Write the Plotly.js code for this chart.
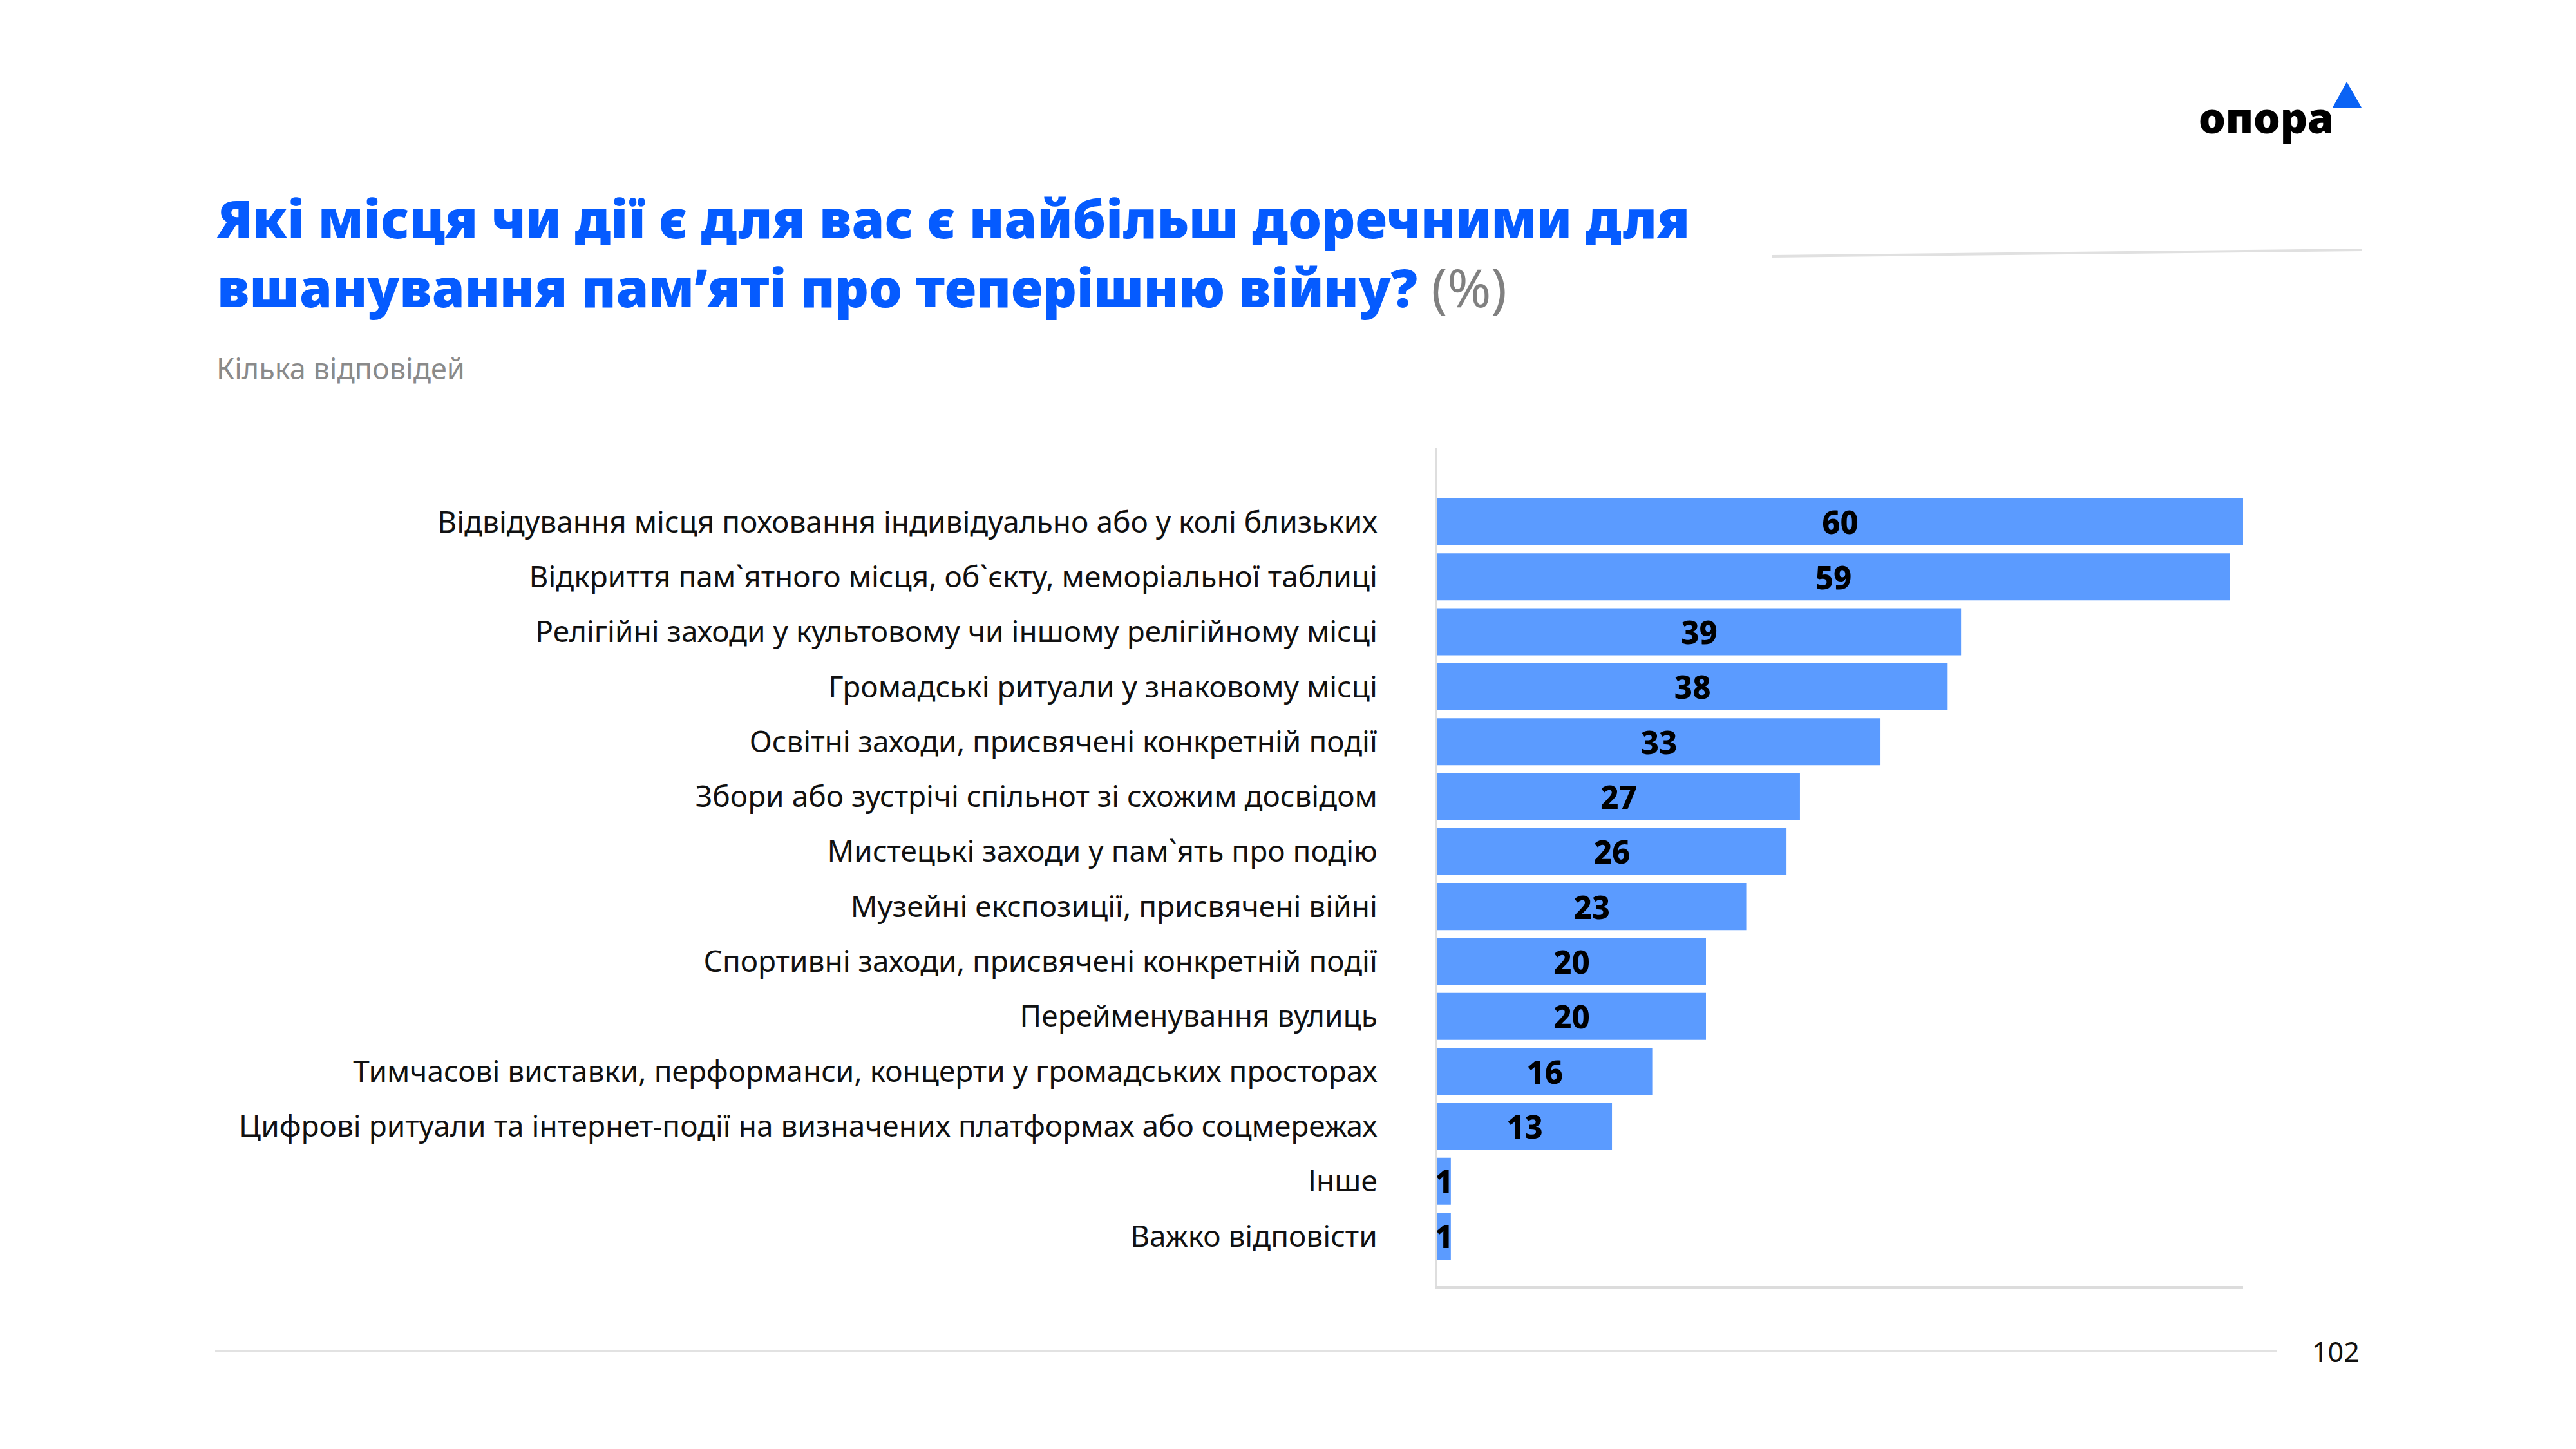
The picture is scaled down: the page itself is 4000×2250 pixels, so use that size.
<!DOCTYPE html>
<html>
<head>
<meta charset="utf-8">
<script src="https://cdn.plot.ly/plotly-3.0.1.min.js"></script>
<style>html,body{margin:0;padding:0;background:#fff;}#chart{width:4000px;height:2250px;}</style>
</head>
<body>
<div id="chart"></div>
<script>
const categories = [
  "Відвідування місця поховання індивідуально або у колі близьких",
  "Відкриття пам`ятного місця, об`єкту, меморіальної таблиці",
  "Релігійні заходи у культовому чи іншому релігійному місці",
  "Громадські ритуали у знаковому місці",
  "Освітні заходи, присвячені конкретній події",
  "Збори або зустрічі спільнот зі схожим досвідом",
  "Мистецькі заходи у пам`ять про подію",
  "Музейні експозиції, присвячені війні",
  "Спортивні заходи, присвячені конкретній події",
  "Перейменування вулиць",
  "Тимчасові виставки, перформанси, концерти у громадських просторах",
  "Цифрові ритуали та інтернет-події на визначених платформах або соцмережах",
  "Інше",
  "Важко відповісти"
];
const values = [60, 59, 39, 38, 33, 27, 26, 23, 20, 20, 16, 13, 1, 1];

const titleLine1 = "Які місця чи дії є для вас є найбільш доречними для";
const titleLine2 = "вшанування пам’яті про теперішню війну?";
const unitText = "(%)";
const subtitleText = "Кілька відповідей";
const pageNumber = "102";
const logoText = "опора";

// layout geometry (pixels)
const L = 2232, R = 4000 - 3483, T = 696, B = 2250 - 1997;
const W = 4000 - L - R, H = 2250 - T - B;
const px = x => (x - L) / W;
const py = y => 1 - (y - T) / H;

const trace = {
  type: 'bar',
  orientation: 'h',
  y: categories,
  x: values,
  text: values.map(String),
  textposition: 'inside',
  insidetextanchor: 'middle',
  constraintext: 'none',
  cliponaxis: false,
  textfont: {family: 'Noto Sans, sans-serif', size: 49, color: '#000', weight: 800},
  marker: {color: '#5B9BFF', line: {width: 0}},
  hoverinfo: 'none'
};

const layout = {
  width: 4000, height: 2250,
  margin: {l: L, r: R, t: T, b: B, pad: 0},
  paper_bgcolor: '#fff', plot_bgcolor: '#fff',
  showlegend: false,
  bargap: 0.144,
  font: {family: 'Noto Sans, sans-serif', color: '#111'},
  xaxis: {
    range: [0, 60], showgrid: false, zeroline: false,
    showticklabels: false, ticks: '',
    showline: true, linecolor: '#dcdcdc', linewidth: 4, fixedrange: true
  },
  yaxis: {
    type: 'category',
    range: [13.909, -1.342],
    showgrid: false, zeroline: false, ticks: '',
    showline: true, linecolor: '#dedede', linewidth: 3,
    ticklabelstandoff: 81,
    tickfont: {family: 'Noto Sans, sans-serif', size: 46, color: '#111'},
    fixedrange: true
  },
  shapes: [
    {type: 'line', xref: 'paper', yref: 'paper', x0: px(2751), y0: py(398), x1: px(3667), y1: py(388),
     line: {color: '#e0e0e0', width: 4}},
    {type: 'line', xref: 'paper', yref: 'paper', x0: px(334), y0: py(2098), x1: px(3535), y1: py(2098),
     line: {color: '#e2e2e2', width: 4}},
    {type: 'path', xref: 'paper', yref: 'paper',
     path: `M ${px(3622)} ${py(167)} L ${px(3644)} ${py(127)} L ${px(3667)} ${py(167)} Z`,
     fillcolor: '#0A63F5', line: {width: 0}}
  ],
  annotations: [
    {xref: 'paper', yref: 'paper', x: px(334), y: py(392), xanchor: 'left', yanchor: 'middle', align: 'left',
     showarrow: false,
     text: titleLine1 + '<br>' + titleLine2 + ' <span style="font-weight:400;color:#808080">' + unitText + '</span>',
     font: {family: 'Noto Sans, sans-serif', size: 82, color: '#055BFF', weight: 900}},
    {xref: 'paper', yref: 'paper', x: px(334), y: py(572), xanchor: 'left', yanchor: 'middle',
     showarrow: false, text: subtitleText,
     font: {family: 'Noto Sans, sans-serif', size: 45, color: '#8a8a8a'}},
    {xref: 'paper', yref: 'paper', x: px(3666), y: py(2098), xanchor: 'right', yanchor: 'middle',
     showarrow: false, text: pageNumber,
     font: {family: 'Noto Sans, sans-serif', size: 43, color: '#111'}},
    {xref: 'paper', yref: 'paper', x: px(3412), y: py(181), xanchor: 'left', yanchor: 'middle',
     showarrow: false, text: logoText,
     font: {family: 'Noto Sans, sans-serif', size: 66, color: '#000', weight: 900}}
  ]
};

Plotly.newPlot('chart', [trace], layout, {displayModeBar: false, staticPlot: true});
</script>
</body>
</html>
